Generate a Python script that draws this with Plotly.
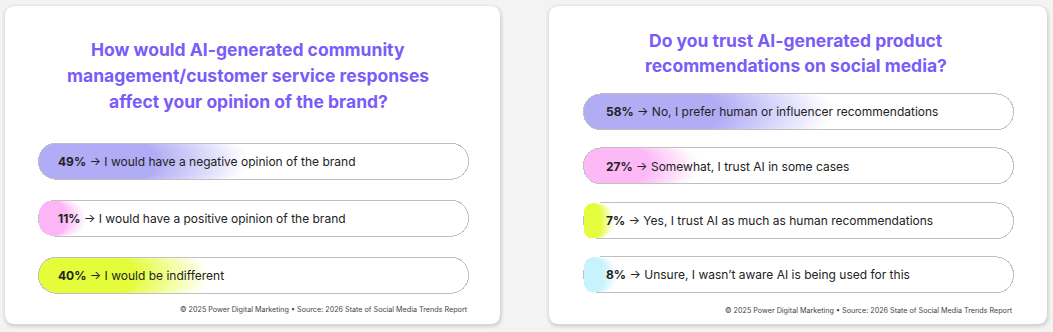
import plotly.graph_objects as go

# ---------------- data ----------------
left_title = ["How would AI-generated community",
              "management/customer service responses",
              "affect your opinion of the brand?"]
left_pct = [49, 11, 40]
left_labels = ["I would have a negative opinion of the brand",
               "I would have a positive opinion of the brand",
               "I would be indifferent"]
left_colors = ["#b0acf5", "#fcb6f6", "#e4fc3a"]

right_title = ["Do you trust AI-generated product",
               "recommendations on social media?"]
right_pct = [58, 27, 7, 8]
right_labels = ["No, I prefer human or influencer recommendations",
                "Somewhat, I trust AI in some cases",
                "Yes, I trust AI as much as human recommendations",
                "Unsure, I wasn\u2019t aware AI is being used for this"]
right_colors = ["#b1adf5", "#fdb8f6", "#e5fc3f", "#c8f3fd"]

footer_text = "\u00a9 2025 Power Digital Marketing \u2022 Source: 2026 State of Social Media Trends Report"

# ---------------- layout constants ----------------
W, H = 1053, 332
BG = "#f3f3f3"
TITLE_COLOR = "#7a5cf6"
TEXT_COLOR = "#222222"
OUTLINE = "#c0c0c0"
BODY_FONT = "Inter"
TITLE_FONT = "Inter"
N_LAYERS = 32
SOLID_FRAC = 0.55

panels = [
    dict(title=left_title, pct=left_pct, labels=left_labels, colors=left_colors,
         card=(5, 6, 500, 324), pill=(38, 469), c0=161.2, sp=57.0,
         title_cx=248, title_ys=[50, 75.5, 101], text_dx=18,
         foot_x=470, foot_y=309, xa="x", ya="y"),
    dict(title=right_title, pct=right_pct, labels=right_labels, colors=right_colors,
         card=(549, 6, 1047, 324), pill=(583, 1014), c0=111.6, sp=54.4,
         title_cx=796, title_ys=[41, 65.5], text_dx=21,
         foot_x=1015, foot_y=310, xa="x2", ya="y2"),
]


def hex_rgb(h):
    h = h.lstrip("#")
    return tuple(int(h[i:i + 2], 16) for i in (0, 2, 4))


def mix(h, t):
    r, g, b = hex_rgb(h)
    return "rgb(%d,%d,%d)" % (round(r + (255 - r) * t), round(g + (255 - g) * t), round(b + (255 - b) * t))


def px_x(x):
    return x / W


def px_y(y):
    return 1 - y / H


def rounded_rect(x0, y0, x1, y1, r):
    # path in paper coordinates, built from pixel values
    X = px_x
    Y = px_y
    return (f"M {X(x0 + r)},{Y(y0)} L {X(x1 - r)},{Y(y0)} Q {X(x1)},{Y(y0)} {X(x1)},{Y(y0 + r)} "
            f"L {X(x1)},{Y(y1 - r)} Q {X(x1)},{Y(y1)} {X(x1 - r)},{Y(y1)} "
            f"L {X(x0 + r)},{Y(y1)} Q {X(x0)},{Y(y1)} {X(x0)},{Y(y1 - r)} "
            f"L {X(x0)},{Y(y0 + r)} Q {X(x0)},{Y(y0)} {X(x0 + r)},{Y(y0)} Z")


fig = go.Figure()
shapes = []
annotations = []
layout_axes = {}

for k, p in enumerate(panels):
    n = len(p["pct"])
    cats = list(range(n))
    xa, ya = p["xa"], p["ya"]
    px0, px1 = p["pill"]
    # value 0 -> inner left edge, 100 -> inner right edge
    in0, in1 = px0 + 1, px1 - 1
    u = 100.0 / (in1 - in0)  # data units per pixel
    pad = 3
    dom_x = [px_x(px0 - pad), px_x(px1 + pad)]
    rng_x = [-(1 + pad) * u, 100 + (1 + pad) * u]
    top = p["c0"] - 0.5 * p["sp"]
    bot = p["c0"] + (n - 0.5) * p["sp"]
    dom_y = [px_y(bot), px_y(top)]
    sfx = "" if k == 0 else str(k + 1)
    layout_axes["xaxis" + sfx] = dict(domain=dom_x, range=rng_x, visible=False, fixedrange=True,
                                      anchor=ya)
    layout_axes["yaxis" + sfx] = dict(domain=dom_y, range=[n - 0.5, -0.5], visible=False,
                                      fixedrange=True, anchor=xa)

    outer_w = 37.0 / p["sp"]
    inner_w = 35.0 / p["sp"]
    d = 1 * u
    common = dict(orientation="h", y=cats, xaxis=xa, yaxis=ya, hoverinfo="skip",
                  showlegend=False)
    # outline pill (grey) in two overlapping halves
    fig.add_trace(go.Bar(base=[60] * n, x=[-(60 + d)] * n, width=outer_w,
                         marker=dict(color=OUTLINE, line=dict(width=0), cornerradius=18.5), **common))
    fig.add_trace(go.Bar(base=[40] * n, x=[60 + d] * n, width=outer_w,
                         marker=dict(color=OUTLINE, line=dict(width=0), cornerradius=18.5), **common))
    # white pill
    fig.add_trace(go.Bar(base=[60] * n, x=[-60] * n, width=inner_w,
                         marker=dict(color="white", line=dict(width=0), cornerradius=17.5), **common))
    fig.add_trace(go.Bar(base=[40] * n, x=[60] * n, width=inner_w,
                         marker=dict(color="white", line=dict(width=0), cornerradius=17.5), **common))
    # gradient layers, each from 0 to its end, rounded on the left
    for i in range(N_LAYERS, 0, -1):
        t = (i - 0.5) / N_LAYERS
        ends = [SOLID_FRAC * v + (v - SOLID_FRAC * v) * i / N_LAYERS for v in p["pct"]]
        cols = [mix(c, t) for c in p["colors"]]
        fig.add_trace(go.Bar(base=ends, x=[-e for e in ends], width=inner_w,
                             marker=dict(color=cols, line=dict(width=0), cornerradius=17.5), **common))
    solid = [SOLID_FRAC * v for v in p["pct"]]
    fig.add_trace(go.Bar(base=solid, x=[-s for s in solid], width=inner_w,
                         marker=dict(color=p["colors"], line=dict(width=0), cornerradius=17.5), **common))

    # bar texts
    for i, (v, lab) in enumerate(zip(p["pct"], p["labels"])):
        annotations.append(dict(x=0, y=i, xref=xa, yref=ya, xanchor="left", yanchor="middle",
                                xshift=p["text_dx"] - 1, showarrow=False,
                                text=f"<b>{v}%</b> \u2192 {lab}",
                                font=dict(family=BODY_FONT, size=12, color=TEXT_COLOR)))

    # card with soft shadow
    cx0, cy0, cx1, cy1 = p["card"]
    for j, op in enumerate([0.018, 0.022, 0.03, 0.04]):
        g = 4 - j
        shapes.append(dict(type="path", xref="paper", yref="paper", layer="below",
                           path=rounded_rect(cx0 - g + 1, cy0 - g + 2, cx1 + g, cy1 + g + 1, 10 + g),
                           fillcolor=f"rgba(0,0,0,{op})", line=dict(width=0)))
    shapes.append(dict(type="path", xref="paper", yref="paper", layer="below",
                       path=rounded_rect(cx0, cy0, cx1, cy1, 10),
                       fillcolor="white", line=dict(width=0)))

    # title
    for line, ty in zip(p["title"], p["title_ys"]):
        annotations.append(dict(x=px_x(p["title_cx"]), y=px_y(ty), xref="paper", yref="paper",
                                xanchor="center", yanchor="middle", showarrow=False, text=f"<b>{line}</b>",
                                font=dict(family=TITLE_FONT, size=17.5, color=TITLE_COLOR)))
    # footer
    annotations.append(dict(x=px_x(p["foot_x"]), y=px_y(p["foot_y"]), xref="paper", yref="paper",
                            xanchor="right", yanchor="middle", showarrow=False, text=footer_text,
                            font=dict(family=BODY_FONT, size=7.2, color="#444444")))

fig.update_layout(
    width=W, height=H, autosize=False,
    margin=dict(l=0, r=0, t=0, b=0, pad=0),
    paper_bgcolor=BG, plot_bgcolor="rgba(0,0,0,0)",
    barmode="overlay", bargap=0,
    shapes=shapes, annotations=annotations,
    showlegend=False,
    **layout_axes,
)

fig.write_html("out.html", config={"displayModeBar": False})
